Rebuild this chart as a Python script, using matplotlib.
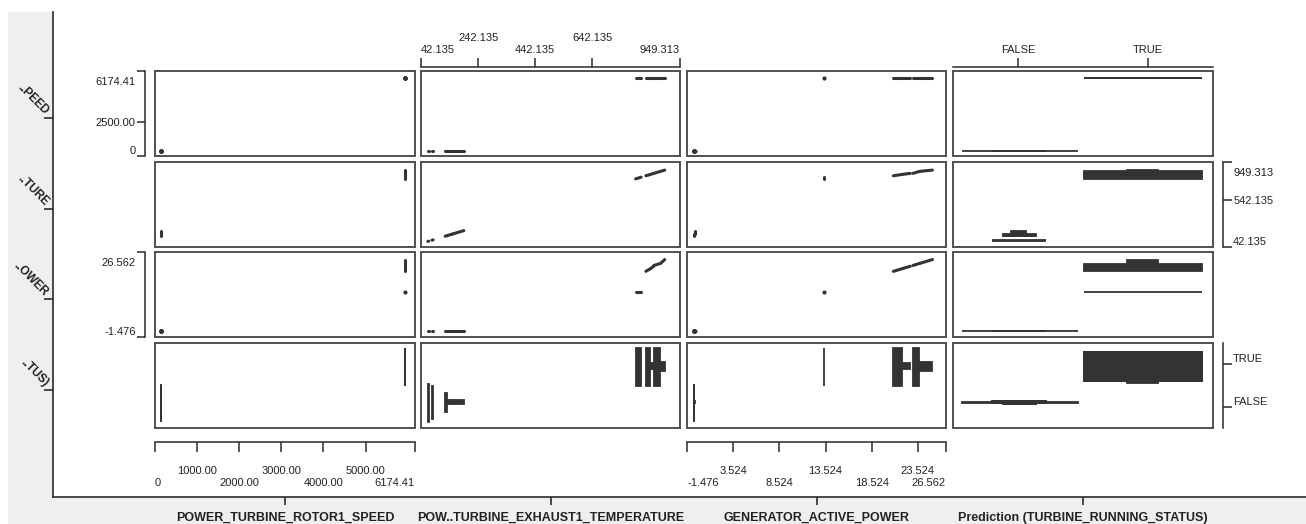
import numpy as np
import matplotlib
matplotlib.use('Agg')
import matplotlib.pyplot as plt
import matplotlib.transforms as mtransforms
from matplotlib.patches import Rectangle

plt.rcParams['font.family'] = ['Liberation Sans', 'DejaVu Sans']

W, H = 1306, 524

# ---- data ----
status_names = ['FALSE', 'TRUE']
col_titles = ['POWER_TURBINE_ROTOR1_SPEED', 'POW..TURBINE_EXHAUST1_TEMPERATURE',
              'GENERATOR_ACTIVE_POWER', 'Prediction (TURBINE_RUNNING_STATUS)']
row_titles = ['..PEED', '..TURE', '..OWER', '..TUS)']

var_lo = [0.0, 42.135, -1.476, -0.5]
var_hi = [6174.41, 949.313, 26.562, 1.5]

speed_ticks = [0, 1000, 2000, 3000, 4000, 5000, 6174.41]
speed_tick_labels = ['0', '1000.00', '2000.00', '3000.00', '4000.00', '5000.00', '6174.41']
speed_side_ticks = [0, 2500, 6174.41]
speed_side_labels = ['0', '2500.00', '6174.41']
temp_ticks = [42.135, 242.135, 442.135, 642.135, 949.313]
temp_tick_labels = ['42.135', '242.135', '442.135', '642.135', '949.313']
temp_side_ticks = [42.135, 542.135, 949.313]
temp_side_labels = ['42.135', '542.135', '949.313']
power_ticks = [-1.476, 3.524, 8.524, 13.524, 18.524, 23.524, 26.562]
power_tick_labels = ['-1.476', '3.524', '8.524', '13.524', '18.524', '23.524', '26.562']
power_side_ticks = [-1.476, 26.562]
power_side_labels = ['-1.476', '26.562']

# observation groups (status 0 = FALSE, 1 = TRUE)
nan = np.nan
grp_status = [0, 0, 0, 0, 0, 0, 1, 1, 1, 1, 1]
grp_speed_lo = [30, 30, 30, 30, 30, 30, 6050, 6050, 6050, 6050, 6050]
grp_speed_hi = [30, 30, 30, 30, 30, 30, 6050, 6050, 6050, 6050, 6050]
grp_temp_lo = [nan, 49, 64, 112, 120, 140, 806, 843, 860, 872, 897]
grp_temp_hi = [nan, 52, 68, 120, 140, 180, 826, 860, 872, 895, 912]
grp_power_lo = [-1.25, -1.25, -1.25, -1.2, -1.2, -1.15, 13.4, 21.2, 22.2, 23.4, 24.2]
grp_power_hi = [-1.25, -1.25, -1.25, -1.2, -1.2, -1.15, 13.4, 22.2, 23.1, 24.1, 25.6]
# jitter of the status value
xjit_lo = [-0.47, -0.23, -0.23, -0.14, -0.14, -0.08, -0.49, -0.49, -0.49, -0.49, -0.15]
xjit_hi = [0.46, 0.20, 0.20, 0.12, 0.12, 0.04, 0.45, 0.45, 0.45, 0.45, 0.10]
yjit_lo = [-0.45, -0.47, -0.40, -0.20, 0.02, 0.02, -0.5, -0.5, -0.05, -0.5, -0.12]
yjit_hi = [0.52, 0.55, 0.50, 0.30, 0.12, 0.12, 0.5, 0.5, 0.10, 0.5, 0.12]
djit_lo = [0.04, 0.03, 0.03, 0.02, 0.02, 0.02, -0.37, -0.37, -0.37, -0.37, -0.42]
djit_hi = [0.06, 0.08, 0.08, 0.09, 0.09, 0.09, 0.39, 0.39, 0.39, 0.39, -0.10]

num_lo = [grp_speed_lo, grp_temp_lo, grp_power_lo]
num_hi = [grp_speed_hi, grp_temp_hi, grp_power_hi]

# ---- layout (pixels) ----
col_px = [(155, 415), (421, 680), (687, 946), (953, 1213)]
row_px = [(71, 156), (162, 247), (252, 337), (343, 428)]
PAD = 5
mark = '#333333'
axcol = '#2b2b2b'
frame = '#505050'


def fbox(x0, y0, x1, y1):
    return [x0 / W, 1 - y1 / H, (x1 - x0) / W, (y1 - y0) / H]


fig = plt.figure(figsize=(W / 100, H / 100), dpi=100)
fig.patch.set_facecolor('white')
fig.patches.append(Rectangle((8 / W, 0), 1 - 8 / W, 1 - 12 / H, transform=fig.transFigure,
                             facecolor='#efefef', edgecolor='none', zorder=-10))

outer = fig.add_axes(fbox(53, 12, W, 497))
outer.set_facecolor('white')
outer.set_xlim(53, W)
outer.set_ylim(497, 12)
for s in ['top', 'right']:
    outer.spines[s].set_visible(False)
for s in ['left', 'bottom']:
    outer.spines[s].set_color(axcol)
    outer.spines[s].set_linewidth(1.2)
outer.set_xticks([(a + b) / 2 for a, b in col_px], col_titles)
outer.set_yticks([(a + b) / 2 + 4 for a, b in row_px], row_titles)
outer.tick_params(axis='x', length=6, width=1.2, color=axcol, pad=4.5, labelsize=9, labelcolor='#222')
outer.tick_params(axis='y', length=6.5, width=1.2, color=axcol, pad=1.5, labelsize=8.5, labelcolor='#222')
for lab in outer.get_xticklabels():
    lab.set_fontweight('bold')
for lab in outer.get_yticklabels():
    lab.set_fontweight('bold')
    lab.set_rotation(-45)
    lab.set_rotation_mode('anchor')
    lab.set_ha('right')
    lab.set_va('bottom')

panels = []
for r in range(4):
    row = []
    for c in range(4):
        x0, x1 = col_px[c]
        y0, y1 = row_px[r]
        ax = fig.add_axes(fbox(x0, y0, x1, y1))
        px = (var_hi[c] - var_lo[c]) * PAD / (x1 - x0 - 2 * PAD)
        py = (var_hi[r] - var_lo[r]) * PAD / (y1 - y0 - 2 * PAD)
        ax.set_xlim(var_lo[c] - px, var_hi[c] + px)
        ax.set_ylim(var_lo[r] - py, var_hi[r] + py)
        ax.set_xticks([])
        ax.set_yticks([])
        for sp in ax.spines.values():
            sp.set_color(frame)
            sp.set_linewidth(1.4)
        row.append(ax)
    panels.append(row)

for r in range(4):
    for c in range(4):
        ax = panels[r][c]
        for g in range(len(grp_status)):
            s = grp_status[g]
            if c == 3:
                xa, xb = s + xjit_lo[g], s + xjit_hi[g]
            else:
                xa, xb = num_lo[c][g], num_hi[c][g]
            if r == 3:
                if c == 3:
                    ya, yb = s + djit_lo[g], s + djit_hi[g]
                else:
                    ya, yb = s + yjit_lo[g], s + yjit_hi[g]
            else:
                ya, yb = num_lo[r][g], num_hi[r][g]
            if np.isnan([xa, xb, ya, yb]).any():
                continue
            if r < 3 and c < 3:
                if xa == xb and ya == yb:
                    ax.plot([xa], [ya], 'o', color=mark, ms=3, mew=0)
                else:
                    ax.plot([xa, xb], [ya, yb], color=mark, lw=2.2, solid_capstyle='round')
            else:
                ax.add_patch(Rectangle((xa, ya), xb - xa, yb - ya, facecolor=mark,
                                       edgecolor=mark, lw=1.3))


def bracket(c, r, side, lo, hi, ticks, labels, offset, length, pad):
    x0, x1 = col_px[c]
    y0, y1 = row_px[r]
    b = fig.add_axes(fbox(x0, y0, x1, y1))
    b.patch.set_visible(False)
    for sp in b.spines.values():
        sp.set_visible(False)
    sp = b.spines[side]
    sp.set_visible(True)
    sp.set_position(('outward', offset))
    sp.set_color(axcol)
    sp.set_linewidth(1.1)
    if side in ('top', 'bottom'):
        b.set_xlim(lo, hi)
        b.set_yticks([])
        b.xaxis.set_ticks_position(side)
        b.set_xticks(ticks, labels)
        b.tick_params(axis='x', direction='out', length=length, width=1.1, color=axcol,
                      pad=pad, labelsize=8, labelcolor='#222')
        labs = b.get_xticklabels()
    else:
        b.set_ylim(lo, hi)
        b.set_xticks([])
        b.yaxis.set_ticks_position(side)
        b.set_yticks(ticks, labels)
        b.tick_params(axis='y', direction='out', length=length, width=1.1, color=axcol,
                      pad=pad, labelsize=8, labelcolor='#222')
        labs = b.get_yticklabels()
    return labs


def shift(lab, dy):
    lab.set_transform(lab.get_transform() +
                      mtransforms.ScaledTranslation(0, dy / 100, fig.dpi_scale_trans))


# bottom brackets (labels in two staggered rows)
for c, ticks, labels in [(0, speed_ticks, speed_tick_labels), (2, power_ticks, power_tick_labels)]:
    labs = bracket(c, 3, 'bottom', var_lo[c], var_hi[c], ticks, labels, 10, 7, 10.4)
    labs[0].set_ha('left')
    labs[-1].set_ha('right')
    for i, lab in enumerate(labs):
        if i % 2 == 0:
            shift(lab, -12)

# top brackets
labs = bracket(1, 0, 'top', var_lo[1], var_hi[1], temp_ticks, temp_tick_labels, 3, 6.5, 2.2)
labs[0].set_ha('left')
labs[-1].set_ha('right')
for i, lab in enumerate(labs):
    if i % 2 == 1:
        shift(lab, 12)
bracket(3, 0, 'top', var_lo[3], var_hi[3], [0, 1], status_names, 3, 6.5, 2.2)

# left brackets
for r, ticks, labels in [(0, speed_side_ticks, speed_side_labels), (2, power_side_ticks, power_side_labels)]:
    labs = bracket(0, r, 'left', var_lo[r], var_hi[r], ticks, labels, 7, 5.8, 1.2)
    labs[0].set_va('bottom')
    labs[-1].set_va('top')
    shift(labs[-1], -6)

# right brackets
labs = bracket(3, 1, 'right', var_lo[1], var_hi[1], temp_side_ticks, temp_side_labels, 7, 6.5, 1)
labs[0].set_va('bottom')
labs[-1].set_va('top')
shift(labs[-1], -6)
labs = bracket(3, 3, 'right', var_lo[3], var_hi[3], [0, 1], status_names, 7, 6.5, 1)
for lab in labs:
    lab.set_va('bottom')

fig.savefig('out.png', dpi=100, facecolor=fig.get_facecolor())
